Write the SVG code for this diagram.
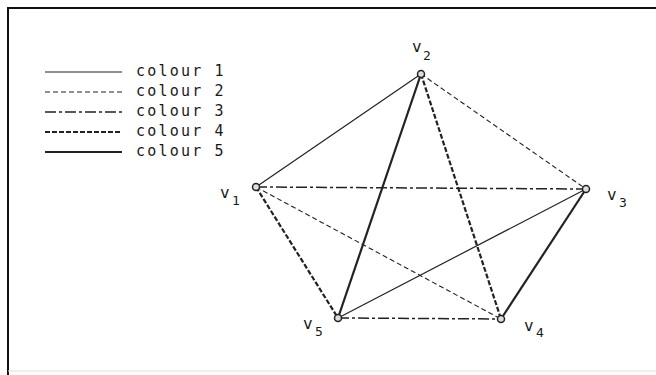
<svg xmlns="http://www.w3.org/2000/svg" width="656" height="375" viewBox="0 0 656 375">
<style>
text{font-family:"DejaVu Sans Mono","Liberation Mono",monospace;fill:#1a1a1a}
.lg{font-size:15px;letter-spacing:2.2px}
.v{font-size:16px}
.s{font-size:13px}
.c1{stroke:#222;stroke-width:1.2;fill:none}
.c2{stroke:#222;stroke-width:1.1;stroke-dasharray:5 3;fill:none}
.c3{stroke:#222;stroke-width:1.5;stroke-dasharray:11 3 3 3;fill:none}
.c4{stroke:#222;stroke-width:2.2;stroke-dasharray:5 2;fill:none}
.c5{stroke:#222;stroke-width:2.2;fill:none}
.node{fill:#ddd;stroke:#222;stroke-width:1.5}
</style>
<rect width="656" height="375" fill="#fff"/>
<g id="frame">
<path d="M8 375 V8 H656" stroke="#111" stroke-width="2" fill="none"/>
<path d="M8 371 H656" stroke="#ddd" stroke-width="1" fill="none"/>
</g>
<g id="legend">
<line class="c1" x1="45" y1="72" x2="122" y2="72"/>
<line class="c2" x1="45" y1="92" x2="122" y2="92"/>
<line class="c3" x1="45" y1="112" x2="122" y2="112"/>
<line class="c4" x1="45" y1="132" x2="122" y2="132"/>
<line class="c5" x1="45" y1="152" x2="122" y2="152"/>
<text class="lg" x="136" y="76">colour 1</text>
<text class="lg" x="136" y="96">colour 2</text>
<text class="lg" x="136" y="116">colour 3</text>
<text class="lg" x="136" y="136">colour 4</text>
<text class="lg" x="136" y="156">colour 5</text>
</g>
<g id="edges">
<line class="c1" x1="256" y1="187" x2="421" y2="74"/>
<line class="c2" x1="421" y1="74" x2="586" y2="189"/>
<line class="c3" x1="256" y1="187" x2="586" y2="189"/>
<line class="c5" x1="421" y1="74" x2="338" y2="318"/>
<line class="c4" x1="421" y1="74" x2="501" y2="319"/>
<line class="c4" x1="256" y1="187" x2="338" y2="318"/>
<line class="c2" x1="256" y1="187" x2="501" y2="319"/>
<line class="c1" x1="586" y1="189" x2="338" y2="318"/>
<line class="c5" x1="586" y1="189" x2="501" y2="319"/>
<line class="c3" x1="338" y1="318" x2="501" y2="319"/>
</g>
<g id="v1"><circle class="node" cx="256" cy="187" r="3.5"/><text class="v" x="220" y="198">v</text><text class="s" x="232" y="205">1</text></g>
<g id="v2"><circle class="node" cx="421" cy="74" r="3.5"/><text class="v" x="412" y="52">v</text><text class="s" x="423" y="60">2</text></g>
<g id="v3"><circle class="node" cx="586" cy="189" r="3.5"/><text class="v" x="607" y="200">v</text><text class="s" x="619" y="207">3</text></g>
<g id="v4"><circle class="node" cx="501" cy="319" r="3.5"/><text class="v" x="524" y="331">v</text><text class="s" x="536" y="337">4</text></g>
<g id="v5"><circle class="node" cx="338" cy="318" r="3.5"/><text class="v" x="303" y="329">v</text><text class="s" x="315" y="336">5</text></g>
</svg>
